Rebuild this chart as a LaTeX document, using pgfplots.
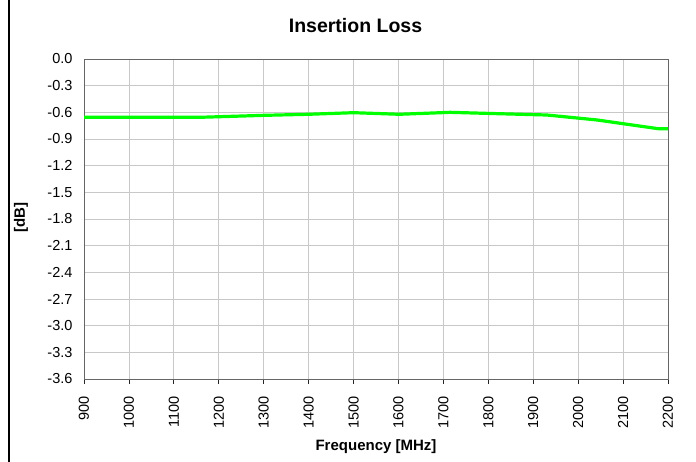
\documentclass[border=0pt]{standalone}
\usepackage{pgfplots}
\pgfplotsset{compat=1.18}
\usepackage{fontspec}
\setmainfont{Liberation Sans}
\definecolor{gridgray}{RGB}{200,200,200}
\definecolor{linegreen}{RGB}{0,255,0}
\begin{document}
\begin{tikzpicture}
\useasboundingbox (0pt,0pt) rectangle (696pt,462pt);
\draw[line width=1.4pt,black] (9pt,0pt) -- (9pt,462pt);
\node[font=\fontsize{19.5}{22}\selectfont\bfseries] at (355.5pt,436pt) {Insertion Loss};
\node[font=\fontsize{15}{17}\selectfont\bfseries,rotate=90] at (21pt,244pt) {[dB]};
\begin{axis}[
  at={(84pt,83pt)}, anchor=south west,
  width=584pt, height=320pt, scale only axis,
  xmin=900, xmax=2200, ymin=-3.6, ymax=0,
  xtick={900,1000,...,2200},
  ytick={-3.6,-3.3,-3.0,-2.7,-2.4,-2.1,-1.8,-1.5,-1.2,-0.9,-0.6,-0.3,0},
  yticklabel style={xshift=-8pt,/pgf/number format/.cd,fixed,fixed zerofill,precision=1},
  xticklabel style={rotate=90,anchor=east,xshift=-9pt,/pgf/number format/.cd,set thousands separator={}},
  /pgf/number format/assume math mode=true,
  tick label style={font=\fontsize{14.5}{17}\selectfont},
  xtick pos=bottom, ytick pos=left,
  grid=major,
  major grid style={gridgray,line width=0.8pt},
  axis line style={draw=gray!80!black,line width=0.8pt},
  x axis line style={draw=gray!30!black,line width=1pt},
  xtick style={draw=gray!30!black,line width=0.8pt},
  ytick style={draw=none},
  xtick align=outside,
  major tick length=5pt,
  xlabel={Frequency [MHz]},
  xlabel style={font=\fontsize{15}{17}\selectfont\bfseries,yshift=-4pt},
  clip=false,
]
\addplot[linegreen,line width=3.2pt] coordinates {
(900,-0.655) (1000,-0.655) (1100,-0.655) (1165,-0.655) (1300,-0.634) (1400,-0.622) (1500,-0.604)
(1602,-0.622) (1715,-0.600) (1820,-0.615) (1930,-0.630) (2042,-0.686) (2178,-0.784) (2200,-0.784)
};
\end{axis}
\end{tikzpicture}
\end{document}
